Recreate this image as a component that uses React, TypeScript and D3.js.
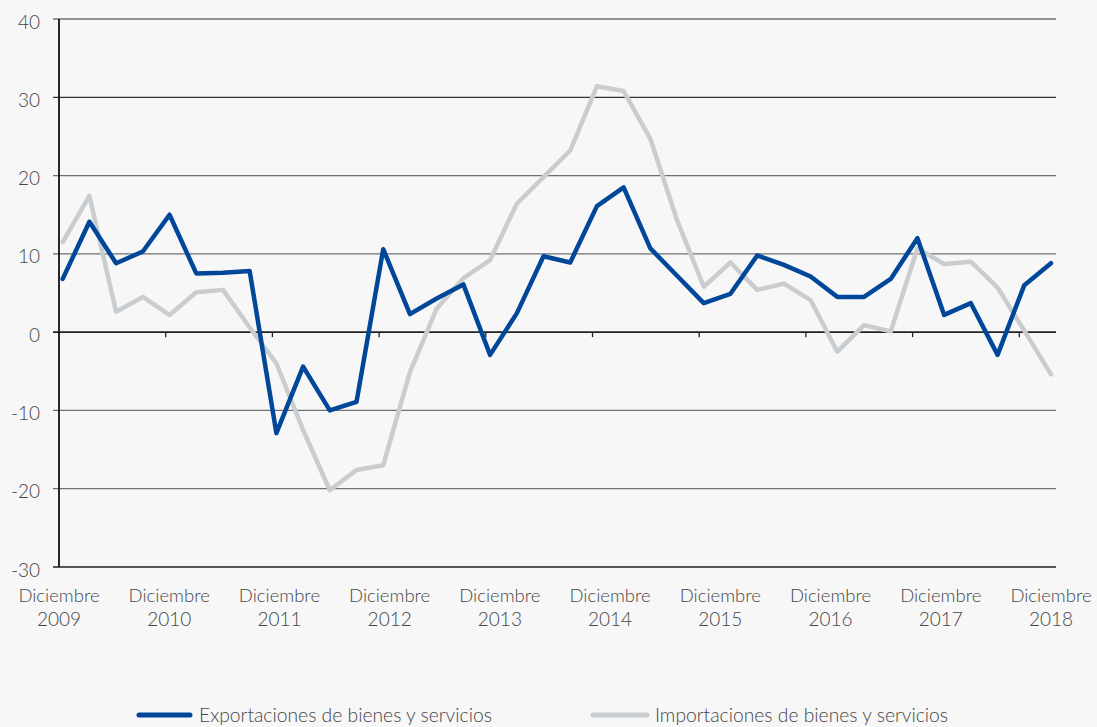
import React from "react";
import * as d3 from "d3";

const exportaciones: number[] = [
  6.8, 14.1, 8.8, 10.3, 15.0, 7.5, 7.6, 7.8, -12.9, -4.4, -10.0, -8.9, 10.6, 2.3, 4.3, 6.1, -2.9, 2.4, 9.7,
  8.9, 16.1, 18.5, 10.7, 7.2, 3.7, 4.9, 9.8, 8.6, 7.1, 4.5, 4.5, 6.8, 12.0, 2.2, 3.7, -2.9, 6.0, 8.8,
];
const importaciones: number[] = [
  11.5, 17.4, 2.6, 4.5, 2.2, 5.1, 5.4, 0.6, -4.0, -12.5, -20.2, -17.6, -17.0, -5.1, 3.0, 6.9, 9.2, 16.4, 19.8,
  23.2, 31.4, 30.8, 24.7, 14.3, 5.8, 8.9, 5.4, 6.2, 4.1, -2.5, 0.9, 0.1, 10.7, 8.7, 9.0, 5.7, 0.2, -5.4,
];
const yearLabels: string[] = ["2009", "2010", "2011", "2012", "2013", "2014", "2015", "2016", "2017", "2018"];
const yTicks: number[] = [40, 30, 20, 10, 0, -10, -20, -30];
const seriesNames: string[] = ["Exportaciones de bienes y servicios", "Importaciones de bienes y servicios"];
const seriesColors: string[] = ["#00479a", "#c9cdd0"];

const FONT = "Lato, 'Open Sans', sans-serif";
const TEXT = "#454545";

export default function App() {
  const left = 59;
  const right = 1056;
  const y = d3.scaleLinear().domain([-30, 40]).range([567, 19]);
  const x = d3.scaleLinear().domain([0, exportaciones.length - 1]).range([62.7, 1051]);
  const xTick = d3.scaleLinear().domain([0, 36]).range([59, 1019.3]);
  const xLabel = d3.scaleLinear().domain([0, yearLabels.length - 1]).range([59, 1051]);
  const line = d3
    .line<number>()
    .x((_, i) => x(i))
    .y((d) => y(d));

  const tickIdx = d3.range(4, 37, 4);

  return (
    <svg
      width={1097}
      height={727}
      style={{ position: "absolute", left: 0, top: 0, background: "#f7f7f7" }}
      fontFamily={FONT}
      fontWeight={300}
    >
      <rect x={0} y={0} width={1097} height={727} fill="#f7f7f7" />
      {yTicks.map((t) => (
        <g key={t}>
          <line
            x1={left - 6}
            x2={right}
            y1={y(t)}
            y2={y(t)}
            stroke={t === 0 || t === -30 ? "#222" : t === 30 ? "#333" : "#707070"}
            strokeWidth={t === 0 || t === -30 ? 1.6 : 1.3}
          />
          <text
            x={40}
            y={y(t) + 2}
            textAnchor="end"
            dominantBaseline="central"
            fontSize={19}
            fill={TEXT}
          >
            {t}
          </text>
        </g>
      ))}
      <line x1={left} x2={left} y1={y(40)} y2={y(-30)} stroke="#111" strokeWidth={1.8} />
      {tickIdx.map((i) => (
        <line key={i} x1={xTick(i)} x2={xTick(i)} y1={y(0)} y2={y(0) + 5} stroke="#222" strokeWidth={1.3} />
      ))}
      <path d={line(importaciones) || ""} fill="none" stroke={seriesColors[1]} strokeWidth={4.5} strokeLinejoin="round" strokeLinecap="round" />
      <path d={line(exportaciones) || ""} fill="none" stroke={seriesColors[0]} strokeWidth={4.5} strokeLinejoin="round" strokeLinecap="round" />
      {yearLabels.map((lab, i) => (
        <g key={lab}>
          <text x={xLabel(i)} y={595} textAnchor="middle" dominantBaseline="central" fontSize={18.5} fill={TEXT}>
            Diciembre
          </text>
          <text x={xLabel(i)} y={618} textAnchor="middle" dominantBaseline="central" fontSize={19} fill={TEXT}>
            {lab}
          </text>
        </g>
      ))}
      <g>
        <line x1={139} x2={190} y1={715} y2={715} stroke={seriesColors[0]} strokeWidth={5} strokeLinecap="round" />
        <text x={199} y={714} dominantBaseline="central" fontSize={19.3} fill={TEXT}>
          {seriesNames[0]}
        </text>
        <line x1={593} x2={647} y1={715} y2={715} stroke={seriesColors[1]} strokeWidth={5} strokeLinecap="round" />
        <text x={655} y={714} dominantBaseline="central" fontSize={19.3} fill={TEXT}>
          {seriesNames[1]}
        </text>
      </g>
    </svg>
  );
}
